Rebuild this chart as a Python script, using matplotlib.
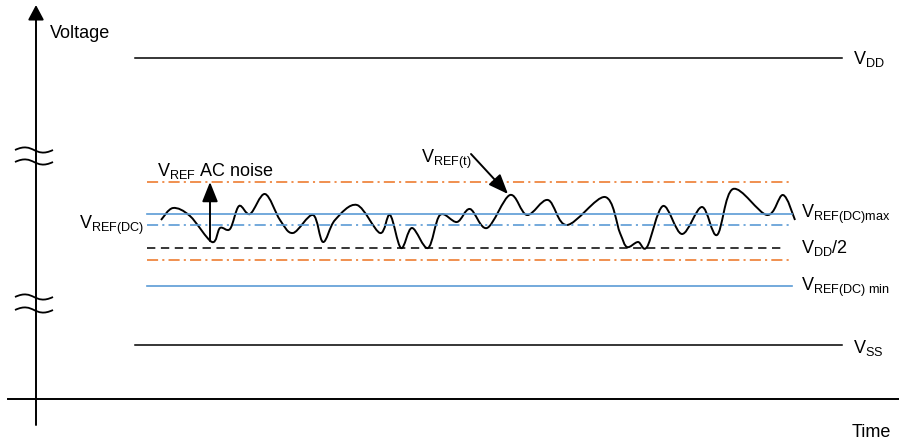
import matplotlib
matplotlib.use("Agg")
import matplotlib.pyplot as plt
import numpy as np
from matplotlib.path import Path
from matplotlib.patches import PathPatch

plt.rcParams['font.family'] = ['Liberation Sans', 'DejaVu Sans']
plt.rcParams['mathtext.fontset'] = 'custom'
plt.rcParams['mathtext.rm'] = 'Liberation Sans'
plt.rcParams['mathtext.it'] = 'Liberation Sans:italic'
plt.rcParams['mathtext.bf'] = 'Liberation Sans:bold'
plt.rcParams['lines.scale_dashes'] = False

ORANGE = '#ED7D31'
BLUE = '#5B9BD5'

# levels (screen units, y grows downward)
rail_levels = {'VDD': 58, 'VSS': 345}
band_levels = {
    'noise_top': 182,
    'dc_max': 214,
    'dc': 225,
    'half_vdd': 248,
    'noise_bot': 260,
    'dc_min': 286,
}

# V_REF(t) waveform
wave_t = [161, 173, 190, 212, 220, 230, 239, 250, 265, 280, 293, 313, 323, 335,
          357, 380, 390, 401, 412, 428, 440, 457, 470, 487, 510, 527, 548, 567,
          605, 620, 627, 638, 647, 663, 682, 702, 717, 733, 767, 783, 795]
wave_v = [220, 208, 216, 242, 228, 229, 206, 214, 194, 220, 233, 215, 242, 220,
          205, 233, 215, 248, 228, 248, 215, 222, 209, 228, 195, 215, 200, 225,
          197, 233, 247, 242, 247, 206, 234, 207, 235, 189, 215, 195, 220]


def smooth_path(xs, ys, tension=1 / 6):
    # Catmull-Rom -> cubic Bezier control points
    pts = np.column_stack([xs, ys]).astype(float)
    verts = [pts[0]]
    codes = [Path.MOVETO]
    n = len(pts)
    for i in range(n - 1):
        p0 = pts[max(i - 1, 0)]
        p1 = pts[i]
        p2 = pts[i + 1]
        p3 = pts[min(i + 2, n - 1)]
        c1 = p1 + (p2 - p0) * tension
        c2 = p2 - (p3 - p1) * tension
        verts += [c1, c2, p2]
        codes += [Path.CURVE4] * 3
    return Path(verts, codes)


def break_mark(ax, xc, yc, w=38, h=9):
    verts = [(xc - w / 2, yc), (xc, yc - h), (xc, yc + h), (xc + w / 2, yc)]
    codes = [Path.MOVETO, Path.CURVE4, Path.CURVE4, Path.CURVE4]
    ax.add_patch(PathPatch(Path(verts, codes), fill=False, lw=1.3, color='black'))


fig = plt.figure(figsize=(8.99, 4.43), dpi=100)
ax = fig.add_axes([0, 0, 1, 1])
ax.set_xlim(0, 899)
ax.set_ylim(443, 0)
ax.axis('off')

arrow_kw = dict(mutation_scale=20, lw=1.4, color='black', shrinkA=0, shrinkB=0)

# axes of the diagram
ax.plot([8, 899], [399, 399], color='black', lw=1.4)
ax.annotate('', xy=(36, 5), xytext=(36, 425),
            arrowprops=dict(arrowstyle='-|>,head_length=0.45,head_width=0.24', **arrow_kw))

# axis breaks
for yb in (150, 162, 297, 310):
    break_mark(ax, 34, yb)

# supply rails
for name, y in rail_levels.items():
    ax.plot([135, 842], [y, y], color='black', lw=1.1)

x0, x1 = 147, 792
dashdot = (0, (8, 3, 1.5, 3))
ax.plot([x0, x1], [band_levels['noise_top']] * 2, color=ORANGE, lw=1.2, linestyle=dashdot)
ax.plot([x0, x1], [band_levels['noise_bot']] * 2, color=ORANGE, lw=1.2, linestyle=dashdot)
ax.plot([x0, x1], [band_levels['dc_max']] * 2, color=BLUE, lw=1.2)
ax.plot([x0, x1], [band_levels['dc']] * 2, color=BLUE, lw=1.2, linestyle=dashdot)
ax.plot([x0, 784], [band_levels['half_vdd']] * 2, color='black', lw=1.1,
        linestyle=(0, (6, 4)))
ax.plot([x0, x1], [band_levels['dc_min']] * 2, color=BLUE, lw=1.2)

# waveform
ax.add_patch(PathPatch(smooth_path(wave_t, wave_v), fill=False, lw=1.4, color='black'))

# arrows
ax.annotate('', xy=(210, 182), xytext=(210, 241),
            arrowprops=dict(arrowstyle='-|>,head_length=0.6,head_width=0.24', **arrow_kw))
ax.annotate('', xy=(508, 194), xytext=(471, 154),
            arrowprops=dict(arrowstyle='-|>,head_length=0.6,head_width=0.24', **arrow_kw))

fs = 13
ax.text(50, 38, 'Voltage', fontsize=fs, va='baseline')
ax.text(852, 437, 'Time', fontsize=fs, va='baseline')
ax.text(853, 64, r'V$_{\mathrm{DD}}$', fontsize=fs, va='baseline')
ax.text(853, 353, r'V$_{\mathrm{SS}}$', fontsize=fs, va='baseline')
ax.text(801, 218, r'V$_{\mathrm{REF(DC)max}}$', fontsize=fs, va='baseline')
ax.text(801, 253, r'V$_{\mathrm{DD}}$/2', fontsize=fs, va='baseline')
ax.text(801, 291, r'V$_{\mathrm{REF(DC)\ min}}$', fontsize=fs, va='baseline')
ax.text(79, 229, r'V$_{\mathrm{REF(DC)}}$', fontsize=fs, va='baseline')
ax.text(157, 176, r'V$_{\mathrm{REF}}$ AC noise', fontsize=fs, va='baseline')
ax.text(421, 163, r'V$_{\mathrm{REF(t)}}$', fontsize=fs, va='baseline')

fig.savefig('out.png', dpi=100)
